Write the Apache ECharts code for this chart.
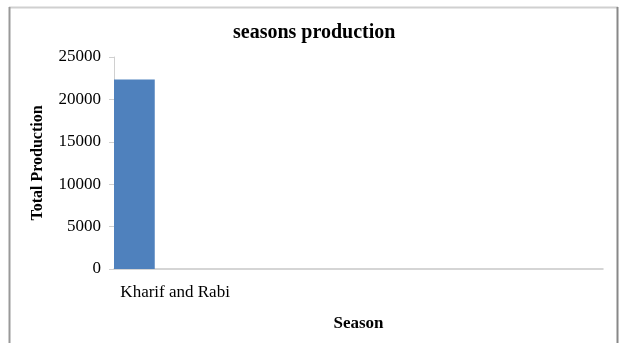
<!DOCTYPE html>
<html>
<head>
<meta charset="utf-8">
<script src="https://cdn.jsdelivr.net/npm/echarts@6/dist/echarts.min.js"></script>
<style>
html,body{margin:0;padding:0;background:#fff;}
#c{width:619px;height:343px;}
</style>
</head>
<body>
<div id="c"></div>
<script>
const titleText = "seasons production";
const categories = ["Kharif and Rabi", "", "", ""];
const seriesA = [22350, null, null, null];
const seriesB = [null, null, null, null];
const seriesC = [null, null, null, null];
const yTicks = { min: 0, max: 25000, interval: 5000 };

const chart = echarts.init(document.getElementById('c'), null, { renderer: 'canvas' });
const serif = '"Liberation Serif", "Times New Roman", serif';
const mk = (d) => ({
  type: 'bar', data: d, barGap: '0%', barCategoryGap: '0%',
  itemStyle: { color: '#4f81bd' }, silent: true
});
chart.setOption({
  animation: false,
  title: {
    text: titleText, left: 228, top: 18,
    textStyle: { fontFamily: serif, fontSize: 20, fontWeight: 'bold', color: '#000' }
  },
  grid: { left: 114, right: 16, top: 57, bottom: 74, containLabel: false },
  xAxis: {
    type: 'category', data: categories,
    name: 'Season', nameLocation: 'middle', nameGap: 46,
    nameTextStyle: { fontFamily: serif, fontSize: 17, fontWeight: 'bold', color: '#000' },
    axisLine: { lineStyle: { color: '#c8c8c8', width: 1.5 } },
    axisTick: { show: false },
    axisLabel: { fontFamily: serif, fontSize: 17, color: '#000', margin: 15, interval: 0 }
  },
  yAxis: {
    type: 'value', min: yTicks.min, max: yTicks.max, interval: yTicks.interval,
    name: 'Total Production', nameLocation: 'middle', nameGap: 68,
    nameTextStyle: { fontFamily: serif, fontSize: 16, fontWeight: 'bold', color: '#000' },
    axisLine: { show: true, lineStyle: { color: '#d0d0d0', width: 1 } },
    axisTick: { show: true, length: 5, lineStyle: { color: '#d0d0d0' } },
    splitLine: { show: false },
    axisLabel: { fontFamily: serif, fontSize: 17, color: '#000', margin: 13, formatter: (v) => String(v) }
  },
  graphic: [
    { type: 'line', shape: { x1: 9, y1: 7.5, x2: 618, y2: 7.5 }, style: { stroke: '#d0d0d0', lineWidth: 2 } },
    { type: 'line', shape: { x1: 9.5, y1: 7, x2: 9.5, y2: 343 }, style: { stroke: '#999', lineWidth: 2 } },
    { type: 'line', shape: { x1: 617.5, y1: 7, x2: 617.5, y2: 343 }, style: { stroke: '#888', lineWidth: 2 } }
  ],
  series: [mk(seriesA), mk(seriesB), mk(seriesC)]
});
</script>
</body>
</html>
